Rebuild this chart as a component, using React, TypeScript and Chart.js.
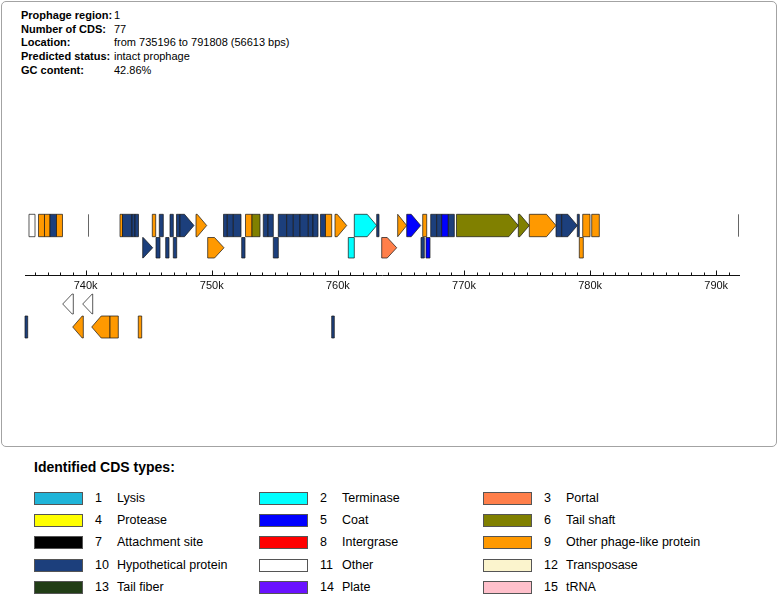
import React, { useEffect, useRef } from 'react';
import { Chart, registerables } from 'chart.js';

Chart.register(...registerables);

const FONT = '"Liberation Sans", Arial, Helvetica, sans-serif';

// ---- info block ----
const INFO_LABELS = ['Prophage region:', 'Number of CDS:', 'Location:', 'Predicted status:', 'GC content:'];
const INFO_VALUES = ['1', '77', 'from 735196 to 791808 (56613 bps)', 'intact prophage', '42.86%'];

// ---- region / axis ----
const REGION_START = 735196;
const REGION_END = 791808;
const TICK_STEP = 1000;
const LABEL_STEP = 10000;
const TICK_VALUES: number[] = [];
for (let v = Math.ceil(REGION_START / TICK_STEP) * TICK_STEP; v <= REGION_END; v += TICK_STEP) TICK_VALUES.push(v);

// ---- CDS types (legend order 1..15) ----
const TYPE_NAMES = [
  'Lysis', 'Terminase', 'Portal',
  'Protease', 'Coat', 'Tail shaft',
  'Attachment site', 'Intergrase', 'Other phage-like protein',
  'Hypothetical protein', 'Other', 'Transposase',
  'Tail fiber', 'Plate', 'tRNA',
];
const TYPE_COLORS = [
  '#1fb4d8', '#00ffff', '#ff7f4a',
  '#ffff00', '#0000ff', '#808000',
  '#000000', '#ff0000', '#ff9900',
  '#1c3f7c', '#ffffff', '#fbf4cd',
  '#213d16', '#6a12ff', '#ffc0cb',
];

// ---- genes (bp coordinates); row: 1/2 forward strand tracks, -1/-2 reverse strand tracks ----
const GENE_START = [
  735513, 736266, 736742, 737178, 737694, 740195, 742729, 742927, 743680, 743918,
  745290, 745845, 746693, 747208, 747486, 748755, 750935, 751236, 751712, 752680,
  753195, 754091, 754464, 755280, 755946, 756469, 757001, 757659, 758031, 758626,
  759023, 759776, 761306, 763082, 764747, 765461, 766730, 767364, 767839, 768236,
  768760, 769409, 774310, 775182, 777299, 777751, 778988, 779416, 780130, 791732,
  744528, 745583, 746352, 746955, 749682, 752378, 754884, 760830, 763479, 766595,
  766991, 779146,
  738185, 739771,
  735196, 738978, 740485, 741936, 744179, 759514,
];
const GENE_END = [
  735989, 736742, 737178, 737694, 738169, 740235, 742927, 743680, 743918, 744195,
  745559, 746162, 746955, 747486, 748596, 749603, 751236, 751712, 752323, 753195,
  753829, 754464, 754884, 755946, 756469, 757001, 757659, 758031, 758428, 759023,
  759514, 760704, 763082, 763265, 765461, 766571, 767047, 767839, 768236, 768760,
  769235, 774310, 775182, 777299, 777751, 778988, 779147, 779995, 780733, 791772,
  745321, 745900, 746614, 747224, 750975, 752640, 755280, 761306, 764668, 766857,
  767308, 779463,
  739026, 740564,
  735410, 739819, 741936, 742594, 744449, 759720,
];
const GENE_TYPE = [
  11, 9, 9, 10, 9, 7, 9, 10, 10, 10,
  9, 10, 10, 10, 10, 9, 10, 10, 10, 9,
  6, 10, 10, 10, 10, 10, 10, 10, 10, 10,
  9, 9, 2, 10, 9, 5, 9, 10, 10, 5,
  10, 6, 6, 9, 10, 10, 10, 9, 9, 7,
  10, 10, 10, 10, 9, 10, 10, 2, 3, 10,
  5, 9,
  11, 11,
  10, 9, 9, 9, 9, 10,
];
const GENE_ROW = [
  1, 1, 1, 1, 1, 1, 1, 1, 1, 1,
  1, 1, 1, 1, 1, 1, 1, 1, 1, 1,
  1, 1, 1, 1, 1, 1, 1, 1, 1, 1,
  1, 1, 1, 1, 1, 1, 1, 1, 1, 1,
  1, 1, 1, 1, 1, 1, 1, 1, 1, 1,
  2, 2, 2, 2, 2, 2, 2, 2, 2, 2,
  2, 2,
  -1, -1,
  -2, -2, -2, -2, -2, -2,
];
const GENE_ARROW = [
  0, 0, 0, 0, 0, 0, 0, 0, 0, 0,
  0, 0, 0, 0, 1, 1, 0, 0, 0, 0,
  0, 0, 0, 0, 0, 0, 0, 0, 0, 0,
  0, 1, 1, 0, 1, 1, 0, 0, 0, 0,
  0, 1, 1, 1, 0, 1, 0, 0, 0, 0,
  1, 0, 0, 0, 1, 0, 0, 0, 1, 0,
  0, 0,
  1, 1,
  0, 1, 1, 0, 0, 0,
];

// vertical bands of each track, in y-scale units (axis at 0, reverse strand below it)
const ROW_BANDS: Record<number, [number, number]> = {
  1: [60.7, 38.3],
  2: [37.5, 17],
  [-1]: [-19, -39],
  [-2]: [-41, -63],
};
const HEAD_PX = 9.5;

const genePlugin = {
  id: 'genes',
  afterDraw(chart: any) {
    const { ctx } = chart;
    const xs = chart.scales.x;
    const ys = chart.scales.y;
    ctx.save();
    // upward tick marks on the coordinate axis
    const axisY = Math.round(ys.getPixelForValue(0)) + 0.5;
    ctx.strokeStyle = '#111';
    ctx.lineWidth = 1;
    for (const t of xs.ticks) {
      if (t.value < xs.min || t.value > xs.max) continue;
      const px = Math.round(xs.getPixelForValue(t.value)) + 0.5;
      const len = t.value % LABEL_STEP === 0 ? 5 : 3;
      ctx.beginPath();
      ctx.moveTo(px, axisY - 0.5);
      ctx.lineTo(px, axisY - len);
      ctx.stroke();
    }
    // genes
    for (let i = 0; i < GENE_START.length; i++) {
      const x0 = xs.getPixelForValue(GENE_START[i]);
      const x1 = xs.getPixelForValue(GENE_END[i]);
      const band = ROW_BANDS[GENE_ROW[i]];
      const yTop = ys.getPixelForValue(band[0]);
      const yBot = ys.getPixelForValue(band[1]);
      const type = GENE_TYPE[i];
      if (type === 7) {
        const px = Math.round((x0 + x1) / 2) + 0.5;
        ctx.strokeStyle = '#666';
        ctx.lineWidth = 1;
        ctx.beginPath();
        ctx.moveTo(px, yTop);
        ctx.lineTo(px, yBot);
        ctx.stroke();
        continue;
      }
      ctx.beginPath();
      if (GENE_ARROW[i]) {
        const head = Math.min(HEAD_PX, x1 - x0);
        const ym = (yTop + yBot) / 2;
        if (GENE_ROW[i] > 0) {
          ctx.moveTo(x0, yTop);
          ctx.lineTo(x1 - head, yTop);
          ctx.lineTo(x1, ym);
          ctx.lineTo(x1 - head, yBot);
          ctx.lineTo(x0, yBot);
        } else {
          ctx.moveTo(x1, yTop);
          ctx.lineTo(x0 + head, yTop);
          ctx.lineTo(x0, ym);
          ctx.lineTo(x0 + head, yBot);
          ctx.lineTo(x1, yBot);
        }
        ctx.closePath();
      } else {
        ctx.rect(x0, yTop, x1 - x0, yBot - yTop);
      }
      ctx.fillStyle = TYPE_COLORS[type - 1];
      ctx.fill();
      ctx.strokeStyle = 'rgba(25,25,25,0.9)';
      ctx.lineWidth = 0.8;
      ctx.stroke();
    }
    ctx.restore();
  },
};

function GenomeChart() {
  const ref = useRef<HTMLCanvasElement | null>(null);
  useEffect(() => {
    if (!ref.current) return;
    Chart.defaults.font.family = FONT;
    const chart = new Chart(ref.current, {
      type: 'scatter',
      data: { datasets: [{ data: [], pointRadius: 0 }] },
      options: {
        animation: false,
        responsive: false,
        devicePixelRatio: 1,
        layout: { padding: { left: 25, right: 39, top: 205, bottom: 155 } },
        plugins: { legend: { display: false }, tooltip: { enabled: false } },
        scales: {
          x: {
            type: 'linear',
            position: 'bottom',
            min: REGION_START,
            max: REGION_END,
            afterBuildTicks: (scale: any) => {
              scale.ticks = TICK_VALUES.map((v) => ({ value: v }));
            },
            afterFit: (scale: any) => { scale.height = 20; },
            grid: { drawOnChartArea: false, drawTicks: false },
            border: { display: true, color: '#111', width: 1 },
            ticks: {
              autoSkip: false,
              maxRotation: 0,
              minRotation: 0,
              padding: 4,
              color: '#111',
              font: { size: 11, family: FONT },
              callback: (v: any) => (Number(v) % LABEL_STEP === 0 ? Number(v) / 1000 + 'k' : ''),
            },
          },
          y: { type: 'linear', min: 0, max: 70, display: false },
        },
      },
      plugins: [genePlugin],
    });
    return () => chart.destroy();
  }, []);
  return <canvas ref={ref} width={778} height={450} style={{ position: 'absolute', left: 0, top: 0 }} />;
}

const LEGEND_COL_X = [34, 259, 483];
const LEGEND_ROW_Y = [492, 514, 536.3, 558.6, 580.8];

export default function App() {
  return (
    <div style={{ position: 'absolute', left: 0, top: 0, width: 778, height: 596, background: '#fff', fontFamily: FONT, color: '#000' }}>
      <div style={{ position: 'absolute', left: 1, top: 1, width: 776, height: 446, boxSizing: 'border-box', border: '1px solid #a3a3a3', borderRadius: 5 }} />
      <div style={{ position: 'absolute', left: 21, top: 9, fontSize: 11, lineHeight: '13.7px' }}>
        {INFO_LABELS.map((l, i) => (
          <div key={i} style={{ position: 'relative', height: 13.7, whiteSpace: 'nowrap' }}>
            <span style={{ fontWeight: 'bold' }}>{l}</span>
            <span style={{ position: 'absolute', left: 93 }}>{INFO_VALUES[i]}</span>
          </div>
        ))}
      </div>
      <GenomeChart />
      <div style={{ position: 'absolute', left: 34, top: 459, fontSize: 14, lineHeight: '16px', fontWeight: 'bold', whiteSpace: 'nowrap' }}>
        Identified CDS types:
      </div>
      {TYPE_NAMES.map((name, i) => {
        const col = i % 3;
        const row = Math.floor(i / 3);
        const x = LEGEND_COL_X[col];
        const y = LEGEND_ROW_Y[row];
        return (
          <div key={i}>
            <div style={{ position: 'absolute', left: x, top: y, width: 49, height: 13, boxSizing: 'border-box', border: '1px solid #555', background: TYPE_COLORS[i] }} />
            <div style={{ position: 'absolute', left: x + 61, top: y - 2, fontSize: 12.5, lineHeight: '17px', whiteSpace: 'nowrap' }}>{i + 1}</div>
            <div style={{ position: 'absolute', left: x + 83, top: y - 2, fontSize: 12.5, lineHeight: '17px', whiteSpace: 'nowrap' }}>{name}</div>
          </div>
        );
      })}
    </div>
  );
}
